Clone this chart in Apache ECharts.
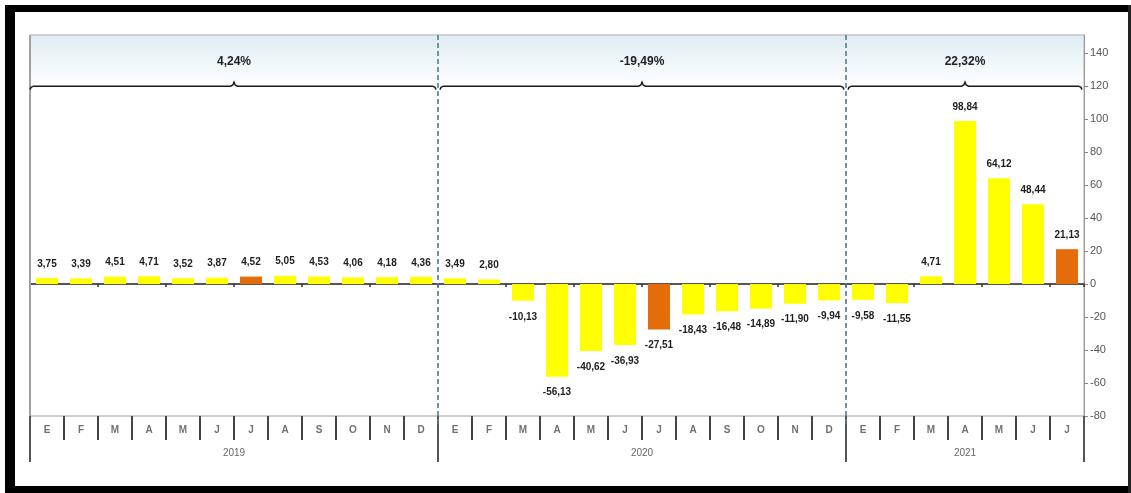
<!DOCTYPE html>
<html><head><meta charset="utf-8">
<script src="https://cdn.jsdelivr.net/npm/echarts@6/dist/echarts.min.js"></script>
<style>html,body{margin:0;padding:0;background:#fff}#c{width:1131px;height:493px}</style>
</head><body><div id="c"></div>
<script>
const years = ['2019', '2020', '2021'];
const monthLetters = ['E', 'F', 'M', 'A', 'M', 'J', 'J', 'A', 'S', 'O', 'N', 'D'];
const monthsPerYear = [12, 12, 7];
const values2019 = [3.75, 3.39, 4.51, 4.71, 3.52, 3.87, 4.52, 5.05, 4.53, 4.06, 4.18, 4.36];
const values2020 = [3.49, 2.80, -10.13, -56.13, -40.62, -36.93, -27.51, -18.43, -16.48, -14.89, -11.90, -9.94];
const values2021 = [-9.58, -11.55, 4.71, 98.84, 64.12, 48.44, 21.13];
const annualChange = ['4,24%', '-19,49%', '22,32%'];
const highlightMonthIndex = 6; // July
const yTicks = [-80, -60, -40, -20, 0, 20, 40, 60, 80, 100, 120, 140];

const NARROW = "'Liberation Sans Narrow','Arial Narrow','Liberation Sans',Arial,sans-serif";
const YELLOW = '#FFFF00', ORANGE = '#E46C0A';

const categories = [], monthOf = [];
const allValues = [].concat(values2019, values2020, values2021);
years.forEach((y, yi) => {
  for (let m = 0; m < monthsPerYear[yi]; m++) { categories.push(y + '-' + m); monthOf.push(m); }
});
const fmt = v => v.toFixed(2).replace('.', ',');
const barData = allValues.map((v, i) => ({
  value: v,
  itemStyle: { color: monthOf[i] === highlightMonthIndex ? ORANGE : YELLOW },
  label: v >= 0 ? { position: 'top', distance: 9 } : { position: 'bottom', distance: 11 }
}));

const chart = echarts.init(document.getElementById('c'), null, { renderer: 'canvas' });
chart.setOption({
  animation: false,
  backgroundColor: '#fff',
  grid: { left: 30, right: 47, top: 35, bottom: 77, show: true, borderColor: '#a0a0a0', borderWidth: 1, containLabel: false },
  xAxis: [
    {
      type: 'category', data: categories, position: 'bottom',
      axisLine: { onZero: true, lineStyle: { color: '#555', width: 2 } },
      axisTick: { show: true, length: 3, lineStyle: { color: '#333', width: 1.5 } },
      axisLabel: { show: false }, splitLine: { show: false }
    },
    {
      type: 'category', data: categories, position: 'bottom',
      axisLine: { show: false, onZero: false },
      axisTick: { show: true, length: 24, lineStyle: { color: '#444', width: 2 } },
      axisLabel: {
        show: true, interval: 0, margin: 9, color: '#707070',
        fontFamily: NARROW, fontWeight: 'bold', fontSize: 10,
        formatter: (v, i) => monthLetters[monthOf[i]]
      },
      splitLine: { show: false }
    }
  ],
  yAxis: {
    type: 'value', position: 'right', min: -80, max: 151, interval: 20,
    axisLine: { show: true, lineStyle: { color: '#9a9a9a', width: 1 } },
    axisTick: { show: true, length: 4, customValues: yTicks, lineStyle: { color: '#888' } },
    axisLabel: {
      customValues: yTicks, margin: 6, color: '#555', fontFamily: NARROW, fontSize: 11,
      formatter: v => (yTicks.indexOf(v) >= 0 ? String(v) : '')
    },
    splitLine: { show: false }
  },
  series: [{
    type: 'bar', xAxisIndex: 0, yAxisIndex: 0, barWidth: 22, data: barData,
    label: {
      show: true, color: '#1e1e1e', fontFamily: NARROW, fontWeight: 'bold', fontSize: 10,
      formatter: p => fmt(p.value)
    }
  }]
});

function drawDecor() {
  const px = i => chart.convertToPixel({ xAxisIndex: 0 }, i);
  const py = v => chart.convertToPixel({ yAxisIndex: 0 }, v);
  const band = px(1) - px(0);
  const edge = i => px(0) + (i - 0.5) * band; // boundary before category i
  const yTop = py(151), yBottom = py(-80), yBrace = py(120), yText = py(135);
  const leftX = edge(0), rightX = edge(allValues.length);
  const g = [];
  g.push({
    type: 'rect', z: 0, silent: true,
    shape: { x: leftX + 1, y: yTop + 1, width: rightX - leftX - 2, height: yBrace - yTop },
    style: { fill: new echarts.graphic.LinearGradient(0, 0, 0, 1, [{ offset: 0, color: '#dfedf4' }, { offset: 1, color: '#ffffff' }]) }
  });
  const bounds = [0];
  monthsPerYear.forEach(n => bounds.push(bounds[bounds.length - 1] + n));
  years.forEach((y, yi) => {
    const x0 = edge(bounds[yi]) + (yi === 0 ? 0 : 2);
    const x1 = edge(bounds[yi + 1]) - 2;
    const cx = (edge(bounds[yi]) + edge(bounds[yi + 1])) / 2;
    const yb = yBrace;
    g.push({
      type: 'polyline', z: 5, silent: true,
      shape: { points: [[x0, yb + 3.5], [x0 + 1, yb + 1.2], [x0 + 3.5, yb], [cx - 3.5, yb], [cx - 1.2, yb - 1.2], [cx, yb - 4], [cx + 1.2, yb - 1.2], [cx + 3.5, yb], [x1 - 3.5, yb], [x1 - 1, yb + 1.2], [x1, yb + 3.5]] },
      style: { stroke: '#1a1a1a', lineWidth: 1.5, fill: null }
    });
    g.push({
      type: 'text', z: 5, silent: true,
      style: { text: annualChange[yi], x: cx, y: yText, align: 'center', verticalAlign: 'middle', font: 'bold 12px ' + NARROW, fill: '#222' }
    });
    g.push({
      type: 'text', z: 5, silent: true,
      style: { text: y, x: cx, y: yBottom + 37, align: 'center', verticalAlign: 'middle', font: '10px ' + NARROW, fill: '#666' }
    });
  });
  bounds.forEach(b => {
    const x = edge(b);
    g.push({ type: 'line', z: 4, silent: true, shape: { x1: x, y1: yBottom, x2: x, y2: yBottom + 46 }, style: { stroke: '#555', lineWidth: 2 } });
  });
  g.push({ type: 'line', z: 4, silent: true, shape: { x1: leftX, y1: yTop, x2: leftX, y2: yBottom }, style: { stroke: '#a0a0a0', lineWidth: 2 } });
  bounds.slice(1, -1).forEach(b => {
    const x = edge(b);
    g.push({ type: 'line', z: 6, silent: true, shape: { x1: x, y1: yTop, x2: x, y2: yBottom + 10 }, style: { stroke: '#4f7f8c', lineWidth: 1.6, lineDash: [5, 3] } });
  });
  g.push({ type: 'rect', z: 10, silent: true, shape: { x: 5, y: 5, width: 1125, height: 7 }, style: { fill: '#000' } });
  g.push({ type: 'rect', z: 10, silent: true, shape: { x: 5, y: 5, width: 10, height: 488 }, style: { fill: '#000' } });
  g.push({ type: 'rect', z: 10, silent: true, shape: { x: 5, y: 486, width: 1126, height: 7 }, style: { fill: '#000' } });
  g.push({ type: 'rect', z: 10, silent: true, shape: { x: 1128, y: 5, width: 3, height: 488 }, style: { fill: '#222' } });
  chart.setOption({ graphic: g });
}
drawDecor();
</script>
</body></html>
